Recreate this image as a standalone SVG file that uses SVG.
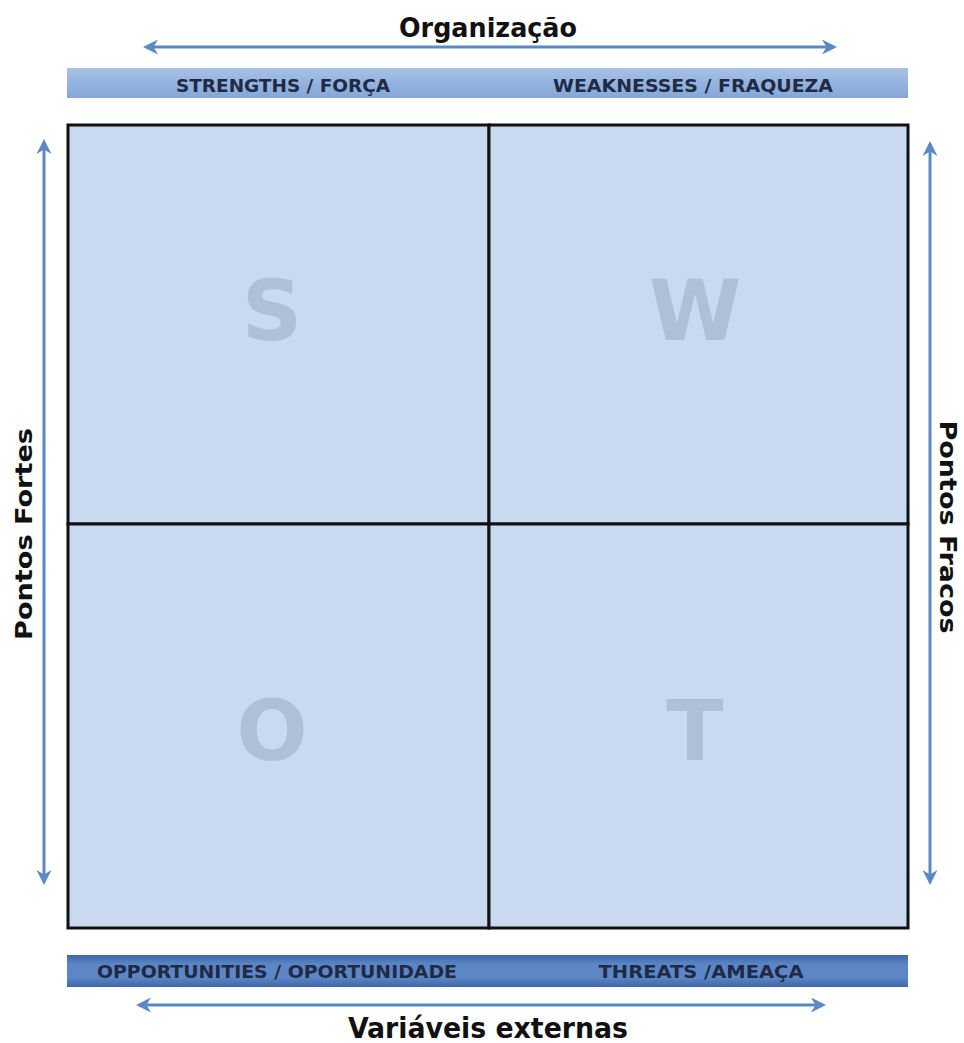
<svg xmlns="http://www.w3.org/2000/svg" width="964" height="1043" viewBox="0 0 964 1043">
<defs>
<style>
.lbl{font-family:"DejaVu Sans Condensed","DejaVu Sans",sans-serif;font-weight:bold;fill:#111;}
.band{font-family:"DejaVu Sans Condensed","DejaVu Sans",sans-serif;font-weight:bold;font-size:17px;fill:#1f2a44;}
.big{font-family:"DejaVu Sans","Liberation Sans",sans-serif;font-weight:bold;font-size:84px;fill:#aebfd7;text-anchor:middle;}
.quad{fill:#c9d9f0;stroke:#111;stroke-width:3;}
.arr{stroke:#5b89c5;stroke-width:3;fill:none;marker-start:url(#ah);marker-end:url(#ah);}
</style>
<marker id="ah" viewBox="0 0 10 10" refX="8" refY="5" markerWidth="5" markerHeight="5" orient="auto-start-reverse" markerUnits="strokeWidth">
<path d="M0,0 L10,5 L0,10 L3,5 Z" fill="#5b89c5"/>
</marker>
<linearGradient id="gtop" x1="0" y1="0" x2="0" y2="1">
<stop offset="0" stop-color="#a9c2e6"/>
<stop offset="0.5" stop-color="#94b3df"/>
<stop offset="1" stop-color="#86a7d6"/>
</linearGradient>
<linearGradient id="gbot" x1="0" y1="0" x2="0" y2="1">
<stop offset="0" stop-color="#3f67a8"/>
<stop offset="0.3" stop-color="#5c86c6"/>
<stop offset="0.7" stop-color="#5c86c6"/>
<stop offset="1" stop-color="#3f67a8"/>
</linearGradient>
</defs>
<rect width="964" height="1043" fill="#ffffff"/>

<g id="connectors">
<line class="arr" x1="146" y1="47" x2="834" y2="47"/>
<line class="arr" x1="139" y1="1005" x2="823" y2="1005"/>
<line class="arr" x1="44" y1="142" x2="44" y2="882"/>
<line class="arr" x1="930" y1="144" x2="930" y2="882"/>
</g>

<g id="title-top"><text class="lbl" x="488" y="37" font-size="26" text-anchor="middle" textLength="178" lengthAdjust="spacingAndGlyphs">Organização</text></g>
<g id="title-bottom"><text class="lbl" x="488" y="1038" font-size="29" text-anchor="middle" textLength="280" lengthAdjust="spacingAndGlyphs">Variáveis externas</text></g>
<g id="title-left"><text class="lbl" transform="translate(32,534) rotate(-90)" font-size="23" text-anchor="middle" textLength="212" lengthAdjust="spacingAndGlyphs">Pontos Fortes</text></g>
<g id="title-right"><text class="lbl" transform="translate(940,527) rotate(90)" font-size="23" text-anchor="middle" textLength="213" lengthAdjust="spacingAndGlyphs">Pontos Fracos</text></g>

<g id="band-top">
<rect x="67" y="68" width="841" height="30" fill="url(#gtop)"/>
<text class="band" x="283" y="92" text-anchor="middle" textLength="214" lengthAdjust="spacingAndGlyphs">STRENGTHS / FORÇA</text>
<text class="band" x="693" y="92" text-anchor="middle" textLength="280" lengthAdjust="spacingAndGlyphs">WEAKNESSES  / FRAQUEZA</text>
</g>
<g id="band-bottom">
<rect x="67" y="955" width="841" height="32" fill="url(#gbot)"/>
<text class="band" x="277" y="978" text-anchor="middle" textLength="360" lengthAdjust="spacingAndGlyphs">OPPORTUNITIES / OPORTUNIDADE</text>
<text class="band" x="701" y="978" text-anchor="middle" textLength="205" lengthAdjust="spacingAndGlyphs">THREATS  /AMEAÇA</text>
</g>

<g id="quad-S"><rect class="quad" x="68" y="125" width="421" height="399"/><text class="big" x="272" y="340">S</text></g>
<g id="quad-W"><rect class="quad" x="489" y="125" width="419" height="399"/><text class="big" x="695" y="340">W</text></g>
<g id="quad-O"><rect class="quad" x="68" y="524" width="421" height="404"/><text class="big" x="272" y="760">O</text></g>
<g id="quad-T"><rect class="quad" x="489" y="524" width="419" height="404"/><text class="big" x="695" y="760">T</text></g>
</svg>
